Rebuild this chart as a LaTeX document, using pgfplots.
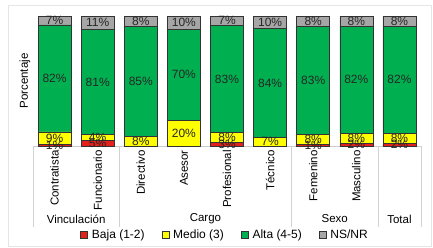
\documentclass[border=0pt]{standalone}
\usepackage{pgfplots}
\pgfplotsset{compat=1.18}
\usepackage{pgfplotstable}
\usepackage{fontspec}
\setmainfont{Liberation Sans}
\definecolor{cbaja}{HTML}{E3201C}
\definecolor{cmedio}{HTML}{FFFF00}
\definecolor{calta}{HTML}{00B050}
\definecolor{cns}{HTML}{A6A6A6}

\pgfplotstableread{
x baja medio alta ns
0 1.4 9.4 82.4 6.8
1 4.6 4.3 80.6 10.5
2 0 7.6 84.6 7.8
3 0 20 70 10
4 2.6 7.6 82.6 7.2
5 0 6.6 83.6 9.8
6 1 8 83 8
7 2 8 82 8
8 2 8 82 8
}\datatable

\pgfplotstableread{
x y lab
0 0.7 1
0 6.1 9
0 52.0 82
0 96.6 7
1 2.3 5
1 6.75 4
1 49.2 81
1 94.75 11
2 3.8 8
2 49.9 85
2 96.1 8
3 10 20
3 55 70
3 95 10
4 1.3 3
4 6.4 8
4 51.5 83
4 96.4 7
5 3.3 7
5 48.4 84
5 95.1 10
6 0.5 1
6 5 8
6 50.5 83
6 96 8
7 1 2
7 6 8
7 51 82
7 96 8
8 1 2
8 6 8
8 51 82
8 96 8
}\labtable

\begin{document}
\begin{tikzpicture}
\useasboundingbox (0,0) rectangle (433pt,247pt);
\draw[gray!20] (8pt,1pt) rectangle (431pt,242pt);
\node[rotate=90, font=\fontsize{11.5}{13}\selectfont] at (25pt,166pt) {Porcentaje};
\begin{axis}[
  at={(33pt,101pt)}, anchor=south west,
  width=388pt, height=130pt, scale only axis,
  xmin=-0.5, xmax=8.5, ymin=0, ymax=100,
  clip=false,
  ybar stacked, bar width=33pt,
  axis x line*=bottom, axis y line=none,
  x axis line style={gray!40,-},
  xtick=\empty, ytick=\empty,
  legend style={at={(0.495,-0.685)}, anchor=center, draw=none, fill=none,
    font=\fontsize{12}{14}\selectfont, legend columns=4,
    /tikz/every even column/.append style={column sep=15pt},
    /tikz/every odd column/.append style={column sep=2pt}},
  legend image code/.code={\draw[#1] (0pt,-3.5pt) rectangle (7pt,3.5pt);},
]
\addplot[fill=cbaja, draw=black!80, line width=0.6pt] table[x=x,y=baja]{\datatable};
\addplot[fill=cmedio, draw=black!80, line width=0.6pt] table[x=x,y=medio]{\datatable};
\addplot[fill=calta, draw=black!80, line width=0.6pt] table[x=x,y=alta]{\datatable};
\addplot[fill=cns, draw=black!80, line width=0.6pt] table[x=x,y=ns]{\datatable};
\legend{Baja (1-2), Medio (3), Alta (4-5), NS/NR}
\draw[gray!35] (axis cs:-0.5,0) -- ([yshift=-81pt]axis cs:-0.5,0);
\draw[gray!35] (axis cs:1.5,0) -- ([yshift=-81pt]axis cs:1.5,0);
\draw[gray!35] (axis cs:5.5,0) -- ([yshift=-81pt]axis cs:5.5,0);
\draw[gray!35] (axis cs:7.5,0) -- ([yshift=-81pt]axis cs:7.5,0);
\draw[gray!35] (axis cs:8.5,0) -- ([yshift=-81pt]axis cs:8.5,0);
\tikzset{catlab/.style={rotate=90, anchor=east, inner sep=0pt, font=\fontsize{11.5}{13}\selectfont}}
\node[catlab] at ([yshift=-4pt]axis cs:0,0) {Contratista};
\node[catlab] at ([yshift=-4pt]axis cs:1,0) {Funcionario};
\node[catlab] at ([yshift=-4pt]axis cs:2,0) {Directivo};
\node[catlab] at ([yshift=-4pt]axis cs:3,0) {Asesor};
\node[catlab] at ([yshift=-4pt]axis cs:4,0) {Profesional};
\node[catlab] at ([yshift=-4pt]axis cs:5,0) {Técnico};
\node[catlab] at ([yshift=-4pt]axis cs:6,0) {Femenino};
\node[catlab] at ([yshift=-4pt]axis cs:7,0) {Masculino};
\node[font=\fontsize{11.5}{13}\selectfont] at (axis cs:0.5,0) [yshift=-73pt] {Vinculación};
\node[font=\fontsize{11.5}{13}\selectfont] at (axis cs:3.5,0) [yshift=-73pt] {Cargo};
\node[font=\fontsize{11.5}{13}\selectfont] at (axis cs:6.5,0) [yshift=-73pt] {Sexo};
\node[font=\fontsize{11.5}{13}\selectfont] at (axis cs:8,0) [yshift=-73pt] {Total};
\end{axis}
\begin{axis}[
  at={(33pt,101pt)}, anchor=south west,
  width=388pt, height=130pt, scale only axis,
  xmin=-0.5, xmax=8.5, ymin=0, ymax=100,
  clip=false, hide axis,
  /pgf/number format/assume math mode=true,
]
\addplot[draw=none, mark=none, point meta=explicit,
  nodes near coords={\pgfmathprintnumber{\pgfplotspointmeta}\%},
  nodes near coords align={center},
  every node near coord/.append style={anchor=center, inner sep=0pt, text=black!85, font=\fontsize{12}{12}\selectfont}]
  table[x=x,y=y,meta=lab]{\labtable};
\end{axis}
\end{tikzpicture}
\end{document}
